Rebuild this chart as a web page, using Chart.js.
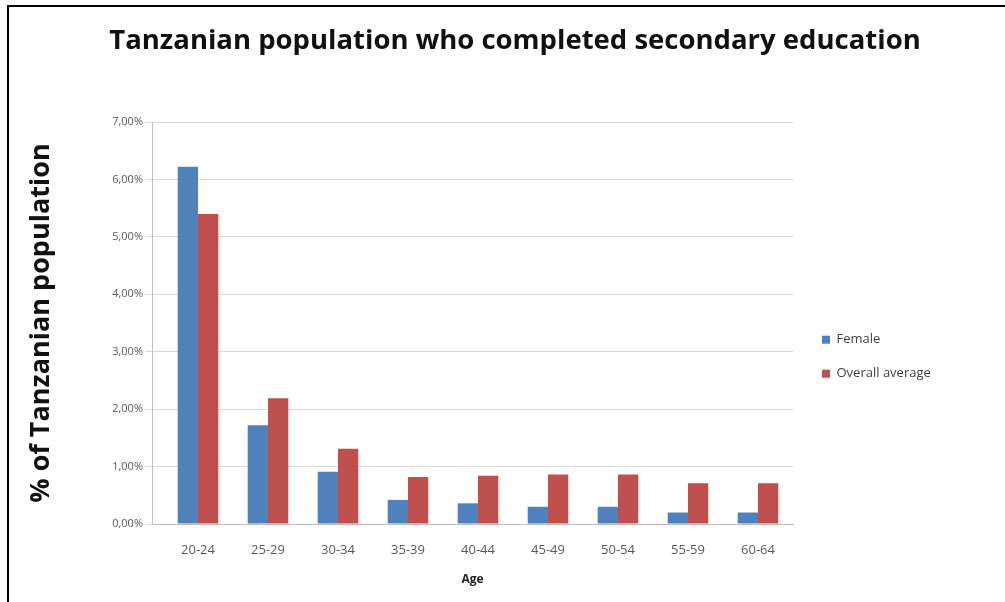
<!DOCTYPE html>
<html lang="en">
<head>
    <meta charset="UTF-8">
    <title>Tanzanian population who completed secondary education</title>
    <script src="https://cdn.jsdelivr.net/npm/chart.js"></script>
    <style>
        body { margin: 0; background: #fff; }
        #wrap { position: relative; width: 1005px; height: 602px; }
        #frame {
            position: absolute; left: 7px; top: 5px; right: -10px; bottom: -10px;
            border-left: 2px solid #000; border-top: 2px solid #000;
            pointer-events: none;
        }
    </style>
</head>
<body>
<div id="wrap">
    <canvas id="eduChart" width="1005" height="602"></canvas>
    <div id="frame"></div>
</div>
<script>
    const ageGroups = ['20-24', '25-29', '30-34', '35-39', '40-44', '45-49', '50-54', '55-59', '60-64'];
    const femaleValues = [6.22, 1.72, 0.91, 0.42, 0.36, 0.30, 0.30, 0.20, 0.20];
    const overallValues = [5.40, 2.19, 1.31, 0.82, 0.84, 0.86, 0.86, 0.71, 0.71];
    const yTicks = [0, 1, 2, 3, 4, 5, 6, 7];

    // legend column is wider than its text, and the categories start a bit right of the y axis
    const layoutTweaks = {
        id: 'layoutTweaks',
        beforeLayout(chart) {
            const lg = chart.legend;
            if (lg && !lg._fixedWidth) {
                const fit = lg.fit;
                lg.fit = function() {
                    fit.call(this);
                    this.width = 212;
                };
                lg._fixedWidth = true;
            }
        },
        afterLayout(chart) {
            const x = chart.scales.x;
            x._startPixel += 11;
            x._length -= 11;
            const lg = chart.legend;
            lg.left += 8;
            lg.right += 8;
        }
    };

    const ctx = document.getElementById('eduChart').getContext('2d');
    const eduChart = new Chart(ctx, {
        type: 'bar',
        data: {
            labels: ageGroups,
            datasets: [{
                label: 'Female',
                data: femaleValues,
                backgroundColor: '#4F81BD',
                categoryPercentage: 0.58,
                barPercentage: 1.0
            }, {
                label: 'Overall average',
                data: overallValues,
                backgroundColor: '#C0504D',
                categoryPercentage: 0.58,
                barPercentage: 1.0
            }]
        },
        plugins: [layoutTweaks],
        options: {
            responsive: false,
            animation: false,
            layout: { padding: { top: 0, right: 0, bottom: 15, left: 25 } },
            plugins: {
                title: {
                    display: true,
                    text: 'Tanzanian population who completed secondary education',
                    color: '#111',
                    font: { family: 'Open Sans', size: 27.5, weight: 'bold' },
                    padding: { top: 25, bottom: 64 }
                },
                legend: {
                    position: 'right',
                    title: {
                        // blank title only pushes the legend rows down
                        display: true,
                        text: ' ',
                        font: { size: 12 },
                        padding: { top: 0, bottom: 112 }
                    },
                    labels: {
                        boxWidth: 8,
                        boxHeight: 8,
                        padding: 21,
                        color: '#404040',
                        font: { family: 'Open Sans', size: 13 }
                    }
                },
                tooltip: { enabled: false }
            },
            scales: {
                x: {
                    afterFit: function(scale) { scale.height = 63; },
                    grid: { display: false, drawTicks: false, tickLength: 0 },
                    border: { color: '#bfbfbf' },
                    ticks: {
                        color: '#595959',
                        font: { family: 'Open Sans', size: 13 },
                        padding: 18
                    },
                    title: {
                        display: true,
                        text: 'Age',
                        color: '#222',
                        font: { family: 'Open Sans', size: 12, weight: 'bold' },
                        padding: { top: 0, bottom: 0 }
                    }
                },
                y: {
                    min: 0,
                    max: 7,
                    afterFit: function(scale) { scale.width = 127; },
                    afterBuildTicks: function(scale) {
                        scale.ticks = yTicks.map(v => ({ value: v }));
                    },
                    grid: {
                        color: '#d9d9d9',
                        tickLength: 7
                    },
                    border: { color: '#bfbfbf' },
                    ticks: {
                        color: '#595959',
                        font: { family: 'Open Sans', size: 11 },
                        padding: 2,
                        callback: v => v.toFixed(2).replace('.', ',') + '%'
                    },
                    title: {
                        display: true,
                        text: '% of Tanzanian population',
                        color: '#111',
                        font: { family: 'Open Sans', size: 27, weight: 'bold' },
                        padding: { top: 0, bottom: 0 }
                    }
                }
            }
        }
    });
</script>
</body>
</html>
